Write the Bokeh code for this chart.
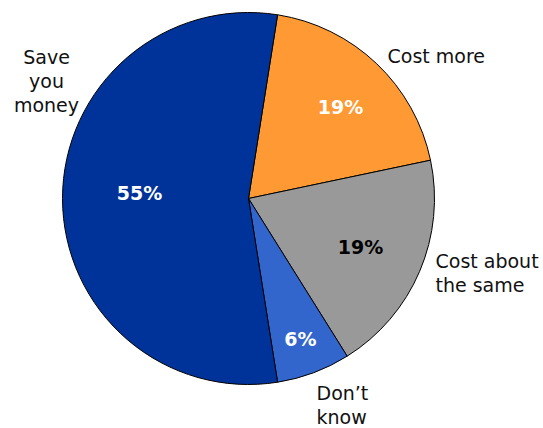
from bokeh.plotting import figure
from bokeh.models import Range1d, ColumnDataSource
from bokeh.embed import file_html
from bokeh.resources import INLINE
from bokeh.core.properties import value
import math

# Data (clockwise order starting near the top)
categories = ["Cost more", "Cost about the same", "Don't know", "Save you money"]
shares = [19.2, 19.4, 6.4, 55.0]
colors = ["#FF9933", "#999999", "#3366CC", "#003399"]
pct_colors = ["white", "black", "white", "white"]

# Layout constants (page pixels)
W, H = 543, 428
cx, cy, R = 248, 198, 186
start_deg = 9.0  # clockwise from 12 o'clock

def Y(py):
    return H - py

p = figure(width=W, height=H, output_backend="svg", toolbar_location=None,
           x_range=Range1d(0, W), y_range=Range1d(0, H),
           min_border=0)
p.axis.visible = False
p.grid.visible = False
p.outline_line_color = None

total = sum(shares)
starts, ends = [], []
cur = start_deg
for s in shares:
    a0 = cur
    a1 = cur + 360.0 * s / total
    starts.append(math.radians(90 - a0))
    ends.append(math.radians(90 - a1))
    cur = a1

src = ColumnDataSource(dict(start=starts, end=ends, color=colors))
p.wedge(x=cx, y=Y(cy), radius=R, start_angle="start", end_angle="end",
        direction="clock", fill_color="color", line_color="black", line_width=1,
        source=src)

# Percentage labels inside slices
pct_pos = [(340, 106), (360, 246), (300, 338), (139, 192)]
pct_text = [f"{round(s)}%" for s in shares]
p.text(x=[q[0] for q in pct_pos], y=[Y(q[1]) for q in pct_pos], text=pct_text,
       text_color=pct_colors, text_font=value("DejaVu Sans"), text_font_style="bold",
       text_font_size="19px", text_align="center", text_baseline="middle")

# Category labels outside
lab_lines = [["Cost more"], ["Cost about", "the same"], ["Don\u2019t", "know"], ["Save", "you", "money"]]
lab_anchor = [(387, 55, "left"), (435, 260, "left"), (316, 392, "left"), (46, 56, "center")]
lh = 24
xs, ys, ts, als = [], [], [], []
for lines, (ax, ay, al) in zip(lab_lines, lab_anchor):
    for i, t in enumerate(lines):
        xs.append(ax)
        ys.append(Y(ay + i * lh))
        ts.append(t)
        als.append(al)
p.text(x=xs, y=ys, text=ts, text_align=als, text_baseline="middle",
       text_color="#111111", text_font=value("DejaVu Sans"), text_font_size="19px")

open("out.html", "w").write(file_html(p, INLINE))
